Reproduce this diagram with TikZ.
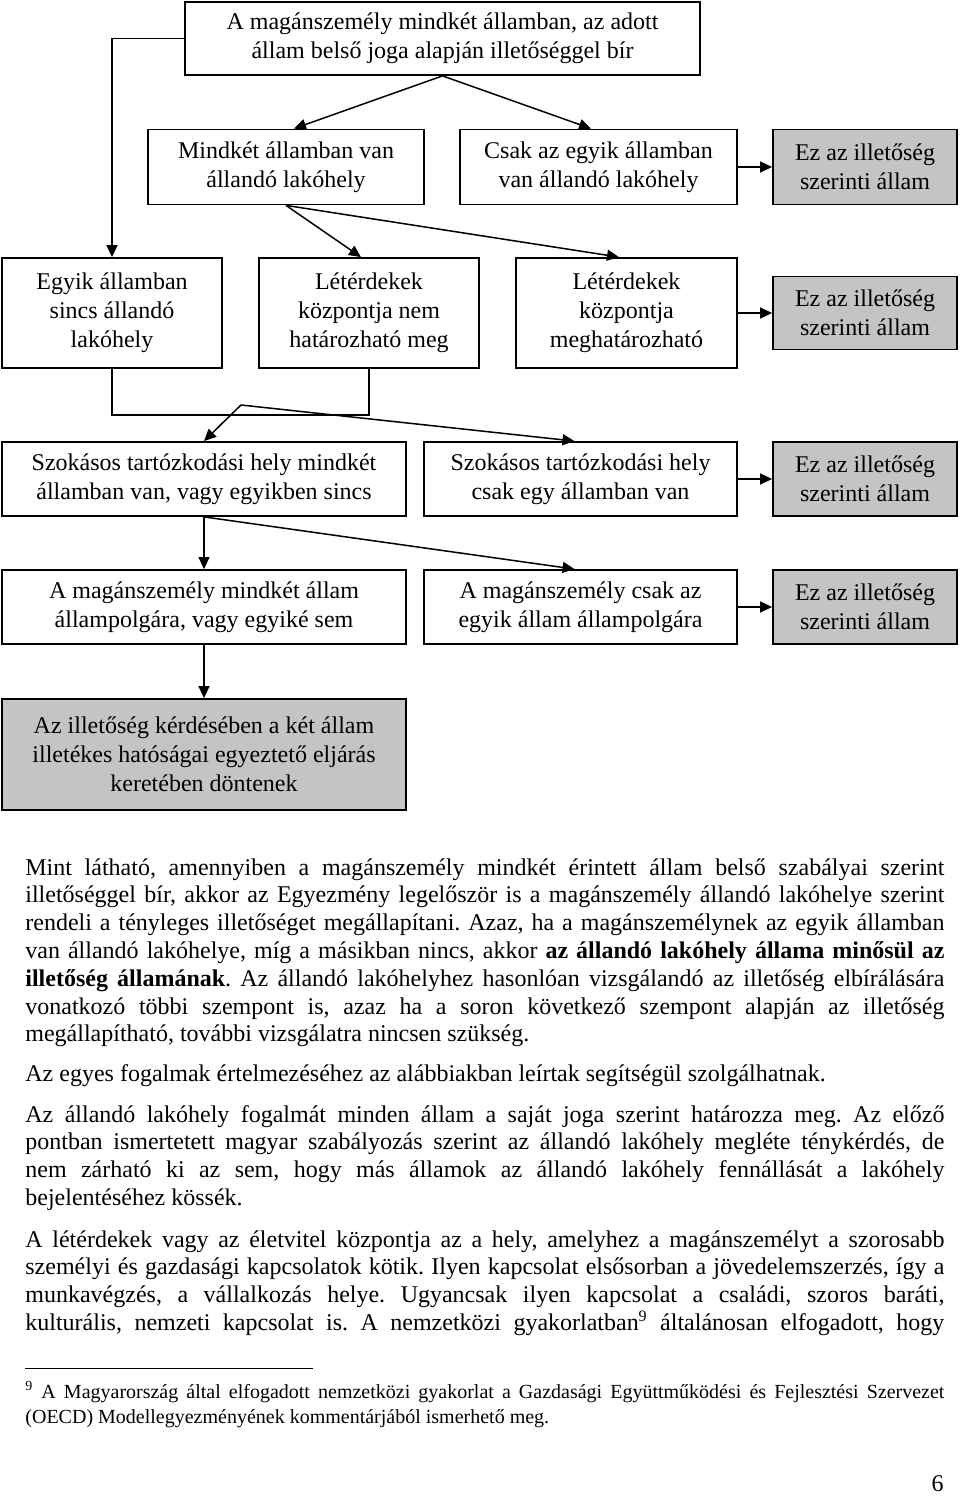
\documentclass[12pt,tikz,border=0pt]{standalone}
\usepackage{fontspec}
\setmainfont{Liberation Serif}
\usetikzlibrary{arrows.meta}
\definecolor{illetgrey}{RGB}{196,196,196}
\hyphenpenalty=10000
\exhyphenpenalty=10000
\tolerance=10000
\frenchspacing
\tikzset{
  box/.style={draw, line width=0.9pt, align=center, inner sep=0pt, font=\fontsize{12}{14.5}\selectfont},
  greybox/.style={box, fill=illetgrey, minimum width=92pt},
  arr/.style={-{Triangle[length=6pt,width=5.5pt]}, line width=0.75pt},
  para/.style={anchor=base west, inner sep=0pt, text width=459.5pt, align=justify, font=\fontsize{12}{13.9}\selectfont}
}

\begin{document}
\begin{tikzpicture}[x=0.5pt,y=-0.5pt]
\useasboundingbox (0,0) rectangle (960,1497);

\node[box, minimum width=257.5pt, minimum height=36.5pt] (start) at (442.5,38.5) {A magánszemély mindkét államban, az adott\\állam belső joga alapján illetőséggel bír};

\node[box, minimum width=138pt, minimum height=37.5pt] (r2a) at (286,167) {Mindkét államban van\\állandó lakóhely};
\node[box, minimum width=138.5pt, minimum height=37.5pt] (r2b) at (598.5,167) {Csak az egyik államban\\van állandó lakóhely};
\node[greybox, minimum height=37.5pt] (g2) at (865,167) {Ez az illetőség\\szerinti állam};

\node[box, minimum width=110pt, minimum height=55pt] (r3a) at (112,313) {Egyik államban\\sincs állandó\\lakóhely};
\node[box, minimum width=110pt, minimum height=55pt] (r3b) at (369,313) {Létérdekek\\központja nem\\határozható meg};
\node[box, minimum width=110.5pt, minimum height=55pt] (r3c) at (626.5,313) {Létérdekek\\központja\\meghatározható};
\node[greybox, minimum height=36.5pt] (g3) at (865,313) {Ez az illetőség\\szerinti állam};

\node[box, minimum width=202pt, minimum height=37pt] (r4a) at (204,479) {Szokásos tartózkodási hely mindkét\\államban van, vagy egyikben sincs};
\node[box, minimum width=156.5pt, minimum height=37pt] (r4b) at (580.5,479) {Szokásos tartózkodási hely\\csak egy államban van};
\node[greybox, minimum height=37pt] (g4) at (865,479) {Ez az illetőség\\szerinti állam};

\node[box, minimum width=202pt, minimum height=37pt] (r5a) at (204,607) {A magánszemély mindkét állam\\állampolgára, vagy egyiké sem};
\node[box, minimum width=156.5pt, minimum height=37pt] (r5b) at (580.5,607) {A magánszemély csak az\\egyik állam állampolgára};
\node[greybox, minimum height=37pt] (g5) at (865,607) {Ez az illetőség\\szerinti állam};

\node[greybox, minimum width=202pt, minimum height=55.5pt] (r6) at (204,754.5) {Az illetőség kérdésében a két állam\\illetékes hatóságai egyeztető eljárás\\keretében döntenek};

\draw[arr] (start.south) -- ([xshift=4pt]r2a.north);
\draw[arr] (start.south) -- ([xshift=-3.75pt]r2b.north);
\draw[arr] (start.west) -| (r3a.north);
\draw[arr] (r2b.east) -- (g2.west);
\draw[arr] (r2a.south) -- ([xshift=-4pt]r3b.north);
\draw[arr] (r2a.south) -- ([xshift=-3.75pt]r3c.north);
\draw[arr] (r3c.east) -- (g3.west);
\draw[line width=0.75pt] (r3a.south) -- ++(0,46) -| (r3b.south);
\coordinate (split) at (241,405);
\draw[arr] (split) -- (r4a.north);
\draw[arr] (split) -- ([xshift=-3pt]r4b.north);
\draw[arr] (r4b.east) -- (g4.west);
\draw[arr] (r4a.south) -- (r5a.north);
\draw[arr] (r4a.south) -- ([xshift=-3pt]r5b.north);
\draw[arr] (r5b.east) -- (g5.west);
\draw[arr] (r5a.south) -- (r6.north);

\node[para] (para1) at (25,875) {Mint látható, amennyiben a magánszemély mindkét érintett állam belső szabályai szerint\linebreak
illetőséggel bír, akkor az Egyezmény legelőször is a magánszemély állandó lakóhelye szerint\linebreak
rendeli a tényleges illetőséget megállapítani. Azaz, ha a magánszemélynek az egyik államban\linebreak
van állandó lakóhelye, míg a másikban nincs, akkor \textbf{az állandó lakóhely állama minősül az}\linebreak
\textbf{illetőség államának}. Az állandó lakóhelyhez hasonlóan vizsgálandó az illetőség elbírálására\linebreak
vonatkozó többi szempont is, azaz ha a soron következő szempont alapján az illetőség\linebreak
megállapítható, további vizsgálatra nincsen szükség.};

\node[para] (para2) at (25,1081) {Az egyes fogalmak értelmezéséhez az alábbiakban leírtak segítségül szolgálhatnak.};

\node[para] (para3) at (25,1122) {Az állandó lakóhely fogalmát minden állam a saját joga szerint határozza meg. Az előző\linebreak
pontban ismertetett magyar szabályozás szerint az állandó lakóhely megléte ténykérdés, de\linebreak
nem zárható ki az sem, hogy más államok az állandó lakóhely fennállását a lakóhely\linebreak
bejelentéséhez kössék.};

\node[para] (para4) at (25,1247) {\parfillskip=0pt A létérdekek vagy az életvitel központja az a hely, amelyhez a magánszemélyt a szorosabb\linebreak
személyi és gazdasági kapcsolatok kötik. Ilyen kapcsolat elsősorban a jövedelemszerzés, így a\linebreak
munkavégzés, a vállalkozás helye. Ugyancsak ilyen kapcsolat a családi, szoros baráti,\linebreak
kulturális, nemzeti kapcsolat is. A nemzetközi gyakorlatban\textsuperscript{9} általánosan elfogadott, hogy\par};

\draw[line width=0.5pt] (25,1368) -- (313,1368);

\node[para, font=\fontsize{10}{12.5}\selectfont] (note) at (25,1398) {\textsuperscript{9} A Magyarország által elfogadott nemzetközi gyakorlat a Gazdasági Együttműködési és Fejlesztési Szervezet\linebreak
(OECD) Modellegyezményének kommentárjából ismerhető meg.};

\node[anchor=base east, inner sep=0pt, font=\fontsize{12}{13.9}\selectfont] (pagenum) at (944,1491) {6};

\end{tikzpicture}
\end{document}
